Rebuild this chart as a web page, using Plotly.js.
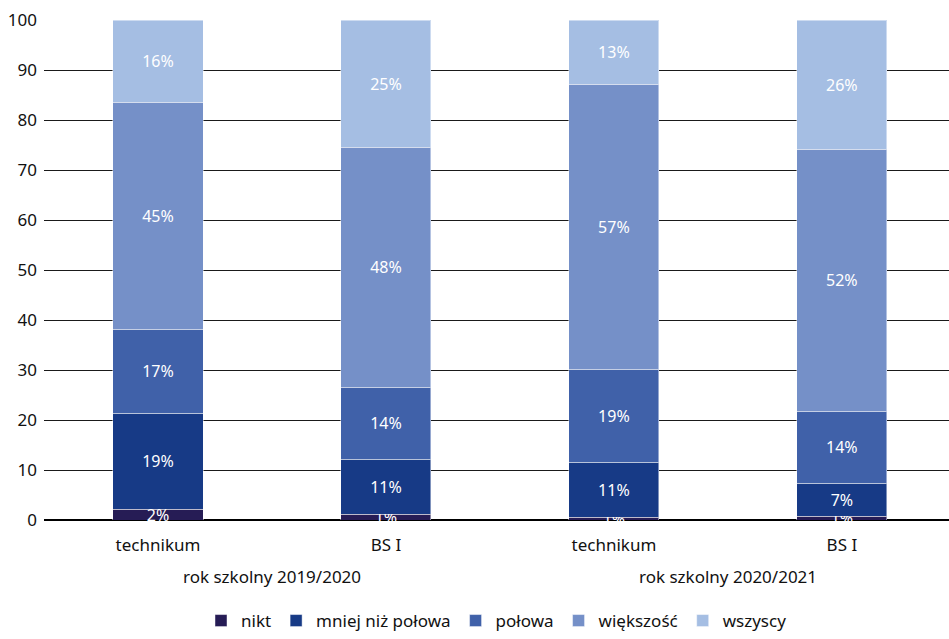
<!DOCTYPE html>
<html>
<head>
<meta charset="utf-8">
<script src="https://cdn.plot.ly/plotly-3.0.1.min.js"></script>
<style>html,body{margin:0;padding:0;background:#fff}#chart{width:949px;height:639px}</style>
</head>
<body>
<div id="chart"></div>
<script>
const years = ["rok szkolny 2019/2020", "rok szkolny 2019/2020", "rok szkolny 2020/2021", "rok szkolny 2020/2021"];
const schools = ["technikum", "BS I", "technikum", "BS I"];
const yearGroups = ["rok szkolny 2019/2020", "rok szkolny 2020/2021"];
const seriesNames = ["nikt", "mniej niż połowa", "połowa", "większość", "wszyscy"];
const nikt = [2.2, 1.2, 0.6, 0.8];
const mniej = [19.2, 11.0, 11.0, 6.6];
const polowa = [16.8, 14.4, 18.6, 14.4];
const wiekszosc = [45.4, 48.0, 57.0, 52.4];
const wszyscy = [16.4, 25.4, 12.8, 25.8];
const colors = ["#261c55", "#173a86", "#4061a9", "#7590c8", "#a5bee3"];

const cats = years.map((y, i) => y + " | " + schools[i]);
const values = [nikt, mniej, polowa, wiekszosc, wszyscy];
const traces = values.map((v, i) => ({
  type: "bar",
  name: seriesNames[i],
  x: cats,
  y: v,
  marker: { color: colors[i], line: { color: "rgba(255,255,255,0.45)", width: 1 } },
  texttemplate: "%{y:.0f}%",
  textposition: "inside",
  insidetextanchor: "middle",
  constraintext: "none",
  cliponaxis: false,
  textfont: { color: "#ffffff", size: 16, family: "Noto Sans, sans-serif" },
  hoverinfo: "skip"
}));

// group labels centred under each pair of bars (category index midpoint)
const annotations = yearGroups.map((g, k) => ({
  text: g,
  xref: "x",
  x: 2 * k + 0.5,
  yref: "paper",
  y: -0.112,
  yanchor: "middle",
  showarrow: false,
  font: { size: 17, color: "#111" }
}));

const layout = {
  width: 949,
  height: 639,
  barmode: "stack",
  bargap: 0.605,
  margin: { l: 44, r: 0, t: 20, b: 119 },
  paper_bgcolor: "#ffffff",
  plot_bgcolor: "#ffffff",
  font: { family: "Noto Sans, sans-serif", size: 17, color: "#111" },
  uniformtext: { mode: "show", minsize: 16 },
  annotations: annotations,
  xaxis: {
    type: "category",
    range: [-0.5, 3.47],
    tickvals: cats,
    ticktext: schools,
    showgrid: false,
    ticks: "",
    showline: false,
    ticklabelstandoff: 13,
    automargin: false,
    tickfont: { size: 17, color: "#111" }
  },
  yaxis: {
    range: [0, 100],
    dtick: 10,
    showgrid: true,
    gridcolor: "#1a1a1a",
    gridwidth: 1,
    zeroline: true,
    zerolinecolor: "#000",
    zerolinewidth: 2,
    ticks: "",
    ticklabelstandoff: 6,
    automargin: false,
    tickfont: { size: 17, color: "#111" },
    fixedrange: true
  },
  showlegend: true,
  legend: {
    orientation: "h",
    x: 0.5,
    xanchor: "center",
    yref: "container",
    y: -0.014,
    yanchor: "bottom",
    font: { size: 17, color: "#111" },
    traceorder: "normal"
  }
};

Plotly.newPlot("chart", traces, layout, { displayModeBar: false, staticPlot: true });
</script>
</body>
</html>
